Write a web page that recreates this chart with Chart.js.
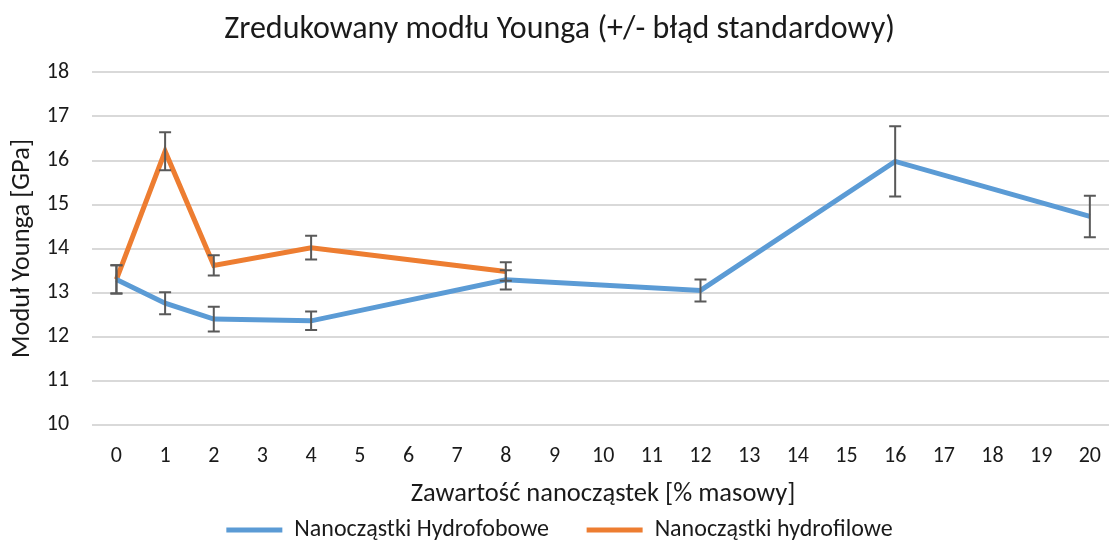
<!DOCTYPE html>
<html>
<head>
<meta charset="utf-8">
<script src="https://cdn.jsdelivr.net/npm/chart.js@4"></script>
<style>
	body { margin: 0; background: #fff; overflow: hidden; }
	#wrap { width: 1109px; height: 542px; overflow: hidden; }
</style>
</head>
<body>
<div id="wrap"><canvas id="chart" width="1119" height="552"></canvas></div>
<script>
// Categories: nanoparticle content (% by mass)
const categories = ["0","1","2","3","4","5","6","7","8","9","10","11","12","13","14","15","16","17","18","19","20"];

// Hydrophobic series (null = no measurement)
const hydrofobowe = [13.3, 12.76, 12.4, null, 12.36, null, null, null, 13.29, null, null, null, 13.05, null, null, null, 15.98, null, null, null, 14.73];
const hydrofoboweErr = [0.32, 0.25, 0.28, null, 0.21, null, null, null, 0.22, null, null, null, 0.25, null, null, null, 0.8, null, null, null, 0.47];

// Hydrophilic series
const hydrofilowe = [13.3, 16.21, 13.62, null, 14.02, null, null, null, 13.48, null, null, null, null, null, null, null, null, null, null, null, null];
const hydrofiloweErr = [0.32, 0.43, 0.23, null, 0.27, null, null, null, 0.21, null, null, null, null, null, null, null, null, null, null, null, null];

const yTicks = [10, 11, 12, 13, 14, 15, 16, 17, 18];

const FONT = "Carlito, Lato, 'Liberation Sans', sans-serif";
const TEXT = "#1a1a1a";

// Simple error bar drawing through the scales
const errorBars = {
	id: "errorBars",
	afterDatasetsDraw(chart) {
		const ctx = chart.ctx;
		const yScale = chart.scales.y;
		ctx.save();
		ctx.strokeStyle = "#595959";
		ctx.lineWidth = 2;
		chart.data.datasets.forEach((ds, di) => {
			const meta = chart.getDatasetMeta(di);
			ds.errors.forEach((e, i) => {
				const v = ds.data[i];
				if (v == null || e == null) return;
				const x = meta.data[i].x;
				const yTop = yScale.getPixelForValue(v + e);
				const yBot = yScale.getPixelForValue(v - e);
				ctx.beginPath();
				ctx.moveTo(x, yTop);
				ctx.lineTo(x, yBot);
				ctx.moveTo(x - 6, yTop);
				ctx.lineTo(x + 6, yTop);
				ctx.moveTo(x - 6, yBot);
				ctx.lineTo(x + 6, yBot);
				ctx.stroke();
			});
		});
		ctx.restore();
	},
};

new Chart(document.getElementById("chart"), {
	type: "line",
	data: {
		labels: categories,
		datasets: [
			{
				label: "Nanocząstki Hydrofobowe",
				data: hydrofobowe,
				errors: hydrofoboweErr,
				borderColor: "#5B9BD5",
				backgroundColor: "#5B9BD5",
				borderWidth: 5,
				pointRadius: 0,
				spanGaps: true,
				tension: 0,
			},
			{
				label: "Nanocząstki hydrofilowe",
				data: hydrofilowe,
				errors: hydrofiloweErr,
				borderColor: "#ED7D31",
				backgroundColor: "#ED7D31",
				borderWidth: 5,
				pointRadius: 0,
				spanGaps: true,
				tension: 0,
			},
		],
	},
	options: {
		responsive: false,
		animation: false,
		layout: { padding: { left: 0, right: 0, top: 0, bottom: 0 } },
		plugins: {
			title: {
				display: true,
				text: "Zredukowany modłu Younga (+/- błąd standardowy)",
				font: { family: FONT, size: 32, weight: "normal" },
				color: TEXT,
				padding: { top: 11, bottom: 23 },
			},
			legend: {
				position: "bottom",
				labels: {
					font: { family: FONT, size: 24 },
					color: TEXT,
					boxWidth: 56,
					boxHeight: 5,
					padding: 4,
					// extra gap between the two entries
					generateLabels: (chart) =>
						Chart.defaults.plugins.legend.labels.generateLabels(chart).map((l, i) => {
							if (i === 0) l.text = l.text + "\u2003\u2009\u2009";
							l.lineWidth = 0;
							return l;
						}),
				},
			},
			tooltip: { enabled: false },
		},
		scales: {
			x: {
				offset: true,
				grid: { display: false, drawTicks: false },
				border: { display: false },
				ticks: { font: { family: FONT, size: 22 }, color: TEXT, padding: 18, maxRotation: 0, autoSkip: false },
				title: {
					display: true,
					text: "Zawartość nanocząstek [% masowy]",
					font: { family: FONT, size: 26.5 },
					color: TEXT,
					padding: { top: -9, bottom: 4 },
				},
			},
			y: {
				min: yTicks[0],
				max: yTicks[yTicks.length - 1],
				afterBuildTicks: (axis) => { axis.ticks = yTicks.map((v) => ({ value: v })); },
				grid: { color: "#d9d9d9", lineWidth: 2, drawTicks: false },
				border: { display: false },
				ticks: { font: { family: FONT, size: 22 }, color: TEXT, padding: 23 },
				title: {
					display: true,
					text: "Moduł Younga [GPa]",
					font: { family: FONT, size: 26.5 },
					color: TEXT,
					padding: { top: 6, bottom: -14 },
				},
			},
		},
	},
	plugins: [errorBars],
});
</script>
</body>
</html>
